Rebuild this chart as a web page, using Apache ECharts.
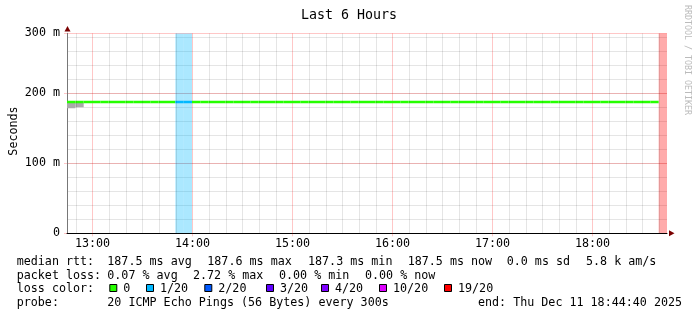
<!DOCTYPE html>
<html><head><meta charset="utf-8">
<script src="https://cdn.jsdelivr.net/npm/echarts@6/dist/echarts.min.js"></script>
<style>html,body{margin:0;padding:0;background:#fff}#c{width:697px;height:321px}</style>
</head><body><div id="c"></div>
<script>
// ---------------- data ----------------
const chartTitle = 'Last 6 Hours';
const yAxisTitle = 'Seconds';
const watermark = 'RRDTOOL / TOBI OETIKER';
const startTime = new Date(2025, 11, 11, 12, 44, 40).getTime();
const endTime = new Date(2025, 11, 11, 18, 44, 40).getTime();
const stepMs = 300 * 1000;
// median rtt per 5-minute step (ms); last step has no median
const medianRtt = [
 187.5,187.5,187.5,187.5,187.5,187.5,187.5,187.5,187.5,187.5,187.5,187.5,
 187.5,187.5,187.5,187.5,187.5,187.5,187.5,187.5,187.5,187.5,187.5,187.5,
 187.5,187.5,187.5,187.5,187.5,187.5,187.5,187.5,187.5,187.5,187.5,187.5,
 187.5,187.5,187.5,187.5,187.5,187.5,187.5,187.5,187.5,187.5,187.5,187.5,
 187.5,187.5,187.5,187.5,187.5,187.5,187.5,187.5,187.5,187.5,187.5,187.5,
 187.5,187.5,187.5,187.5,187.5,187.5,187.5,187.5,187.5,187.5,187.5,null];
// lost pings (out of 20) per step
const lossCount = [
 0,0,0,0,0,0,0,0,0,0,0,0,
 0,1,1,0,0,0,0,0,0,0,0,0,
 0,0,0,0,0,0,0,0,0,0,0,0,
 0,0,0,0,0,0,0,0,0,0,0,0,
 0,0,0,0,0,0,0,0,0,0,0,0,
 0,0,0,0,0,0,0,0,0,0,0,19];
// smoke (spread of pings) for the first steps
const smokeLow = [178.5, 180.0];
const smokeHigh = [186.5, 186.5];
const yMax = 2000 / 7;
const yTickLabels = ['0', '100 m', '200 m', '300 m'];
const lossLevels = [0, 1, 2, 3, 4, 10, 19];
const lossLabels = ['0', '1/20', '2/20', '3/20', '4/20', '10/20', '19/20'];
const lossColors = ['#26ff00', '#00b8ff', '#0059ff', '#5e00ff', '#7e00ff', '#dd00ff', '#ff0000'];
const rttLegend = ['median rtt:', '187.5 ms avg', '187.6 ms max', '187.3 ms min', '187.5 ms now', '0.0 ms sd', '5.8 k am/s'];
const lossLegend = ['packet loss:', '0.07 % avg', '2.72 % max', '0.00 % min', '0.00 % now'];
const probeLegend = ['probe:', '20 ICMP Echo Pings (56 Bytes) every 300s', 'end: Thu Dec 11 18:44:40 2025'];
const lossColorTitle = 'loss color:';

// ---------------- build ----------------
function lossColor(l) {
  let c = lossColors[0];
  for (let i = 0; i < lossLevels.length; i++) if (l >= lossLevels[i]) c = lossColors[i];
  return c;
}
const steps = medianRtt.map((v, i) => [startTime + i * stepMs, startTime + (i + 1) * stepMs, v, lossCount[i]]);
const smoke = smokeLow.map((v, i) => [startTime + i * stepMs, startTime + (i + 1) * stepMs, v, smokeHigh[i]]);

// 10-minute minor grid positions (not on the hour)
const minorGrid = [];
{
  const d = new Date(startTime);
  d.setSeconds(0, 0);
  d.setMinutes(Math.ceil(d.getMinutes() / 10) * 10);
  for (let t = d.getTime(); t < endTime; t += 600000) {
    if (new Date(t).getMinutes() !== 0 && t > startTime) minorGrid.push({xAxis: t});
  }
}

const FONT = 'DejaVu Sans Mono';
const FS = 11.7;
const GRAY = 'rgba(0,0,0,0.10)';
const PINK = 'rgba(255,0,0,0.22)';

const chart = echarts.init(document.getElementById('c'), null, {renderer: 'canvas'});

const graphics = [];
function txt(x, y, s, extra) {
  graphics.push(Object.assign({type: 'text', x: x, y: y, silent: true,
    style: Object.assign({text: s, font: FS + 'px "' + FONT + '"', fill: '#000', textVerticalAlign: 'middle'}, extra || {})}));
}
graphics.push({type: 'text', x: 349, y: 16, style: {text: chartTitle, font: '13.3px "' + FONT + '"', fill: '#000', textAlign: 'center', textVerticalAlign: 'middle'}});
graphics.push({type: 'text', x: 14, y: 131, rotation: Math.PI / 2, style: {text: yAxisTitle, font: FS + 'px "' + FONT + '"', fill: '#000', textAlign: 'center', textVerticalAlign: 'middle'}});
graphics.push({type: 'text', x: 687.5, y: 60, rotation: -Math.PI / 2, style: {text: watermark, font: '8.3px "' + FONT + '"', fill: '#bbbbbb', textAlign: 'center', textVerticalAlign: 'middle'}});
graphics.push({type: 'polygon', shape: {points: [[67.5, 26], [64.5, 31.5], [70.5, 31.5]]}, style: {fill: '#7a0000'}});
graphics.push({type: 'polygon', shape: {points: [[674.5, 233.3], [669, 230.3], [669, 236.3]]}, style: {fill: '#7a0000'}});
const rttX = [16.7, 107.3, 207.3, 308, 407.7, 506.7, 586];
rttLegend.forEach((s, i) => txt(rttX[i], 261.7, s));
const lossX = [16.7, 107.3, 193, 279, 365];
lossLegend.forEach((s, i) => txt(lossX[i], 275.7, s));
txt(16.7, 289.3, lossColorTitle);
const sqX = [109.3, 146, 204.3, 266, 321, 379, 444];
lossLabels.forEach((s, i) => {
  graphics.push({type: 'rect', shape: {x: sqX[i] + 0.5, y: 284.5, width: 7, height: 7}, style: {fill: lossColors[i], stroke: '#000', lineWidth: 1}});
  txt(sqX[i] + 14, 289.3, s);
});
const probeX = [16.7, 107.3, 478];
probeLegend.forEach((s, i) => txt(probeX[i], 303.3, s));

const option = {
  backgroundColor: '#fff',
  animation: false,
  grid: {left: 67, top: 33.3, width: 600, height: 200, containLabel: false},
  xAxis: [
    {type: 'time', min: startTime, max: endTime, minInterval: 3600000, maxInterval: 3600000, splitNumber: 6, z: 1,
      position: 'bottom',
      axisLine: {show: true, onZero: false, lineStyle: {color: '#000', width: 1}},
      axisTick: {show: true, length: 3, lineStyle: {color: PINK}},
      axisLabel: {show: true, formatter: '{HH}:{mm}', showMinLabel: false, showMaxLabel: false, margin: 5,
        color: '#000', fontFamily: FONT, fontSize: FS, fontWeight: 'normal', hideOverlap: false},
      splitLine: {show: true, showMinLine: false, showMaxLine: false, lineStyle: {color: PINK, width: 1}}}
  ],
  yAxis: [
    {type: 'value', min: 0, max: yMax, interval: 20, z: 0,
      axisLine: {show: false}, axisTick: {show: false}, axisLabel: {show: false},
      splitLine: {show: true, showMinLine: false, showMaxLine: false, lineStyle: {color: GRAY}}},
    {type: 'value', min: 0, max: yMax, interval: 100, z: 1, position: 'left',
      axisLine: {show: true, onZero: false, lineStyle: {color: '#777', width: 1}},
      axisTick: {show: true, length: 3, lineStyle: {color: PINK}},
      axisLabel: {show: true, margin: 7, color: '#000', fontFamily: FONT, fontSize: FS, showMaxLabel: true,
        formatter: function (v, idx) { return yTickLabels[Math.min(idx, yTickLabels.length - 1)]; }},
      splitLine: {show: true, showMinLine: false, showMaxLine: true, lineStyle: {color: PINK}}}
  ],
  series: [
    {type: 'line', name: 'grid', xAxisIndex: 0, yAxisIndex: 0, z: 0, silent: true,
      data: steps.map(s => [s[0], s[2]]), showSymbol: false, lineStyle: {opacity: 0, width: 0},
      markLine: {silent: true, animation: false, symbol: ['none', 'none'], label: {show: false},
        lineStyle: {color: GRAY, type: 'solid', width: 1}, emphasis: {disabled: true}, data: minorGrid}},
    {type: 'custom', name: 'loss', xAxisIndex: 0, yAxisIndex: 0, data: steps, z: 2, clip: true, silent: true,
      encode: {x: [0, 1], y: 2},
      renderItem: function (params, api) {
        const l = api.value(3);
        if (!(l > 0)) return null;
        const p0 = api.coord([api.value(0), yMax]);
        const p1 = api.coord([api.value(1), 0]);
        return {type: 'rect', shape: {x: p0[0], y: p0[1], width: p1[0] - p0[0], height: p1[1] - p0[1]},
          style: {fill: lossColor(l), opacity: 0.33}};
      }},
    {type: 'custom', name: 'smoke', xAxisIndex: 0, yAxisIndex: 0, data: smoke, z: 3, clip: true, silent: true,
      encode: {x: [0, 1], y: [2, 3]},
      renderItem: function (params, api) {
        const p0 = api.coord([api.value(0), api.value(3)]);
        const p1 = api.coord([api.value(1), api.value(2)]);
        return {type: 'rect', shape: {x: p0[0], y: p0[1], width: p1[0] - p0[0], height: p1[1] - p0[1]},
          style: {fill: '#aaaaaa'}};
      }},
    {type: 'custom', name: 'median', xAxisIndex: 0, yAxisIndex: 0, data: steps, z: 4, clip: true, silent: true,
      encode: {x: [0, 1], y: 2},
      renderItem: function (params, api) {
        const v = api.value(2);
        if (v == null || isNaN(v)) return null;
        const p0 = api.coord([api.value(0), v]);
        const p1 = api.coord([api.value(1), v]);
        return {type: 'line', shape: {x1: p0[0], y1: p0[1], x2: p1[0], y2: p1[1]},
          style: {stroke: lossColor(api.value(3)), lineWidth: 2.4, lineCap: 'butt'}};
      }}
  ],
  graphic: graphics
};
chart.setOption(option);
</script></body></html>
